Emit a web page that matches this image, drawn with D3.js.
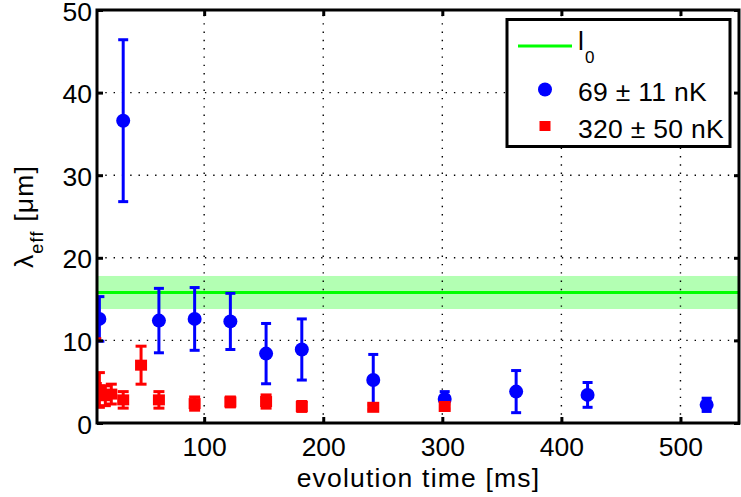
<!DOCTYPE html>
<html>
<head>
<meta charset="utf-8">
<script src="https://cdn.jsdelivr.net/npm/d3@7"></script>
<style>
  html, body { margin: 0; padding: 0; background: #fff; }
  svg { display: block; font-family: "Liberation Sans", Arial, sans-serif; }
</style>
</head>
<body>
<svg id="chart" width="741" height="497"></svg>
<script>
// Evolution time [ms] and effective length [µm] for the cold sample (69 ± 11 nK)
const coldTime  = [12, 32, 62, 92, 122, 152, 182, 242, 302, 362, 422, 522];
const coldValue = [12.6, 36.6, 12.4, 12.6, 12.3, 8.4, 8.9, 5.2, 2.9, 3.8, 3.4, 2.2];
const coldError = [2.7, 9.8, 3.9, 3.8, 3.4, 3.65, 3.7, 3.1, 0.9, 2.55, 1.5, 0.8];

// Warm sample (320 ± 50 nK)
const warmTime  = [9, 12, 17, 22, 32, 47, 62, 92, 122, 152, 182, 242, 302];
const warmValue = [4.3, 4.0, 3.3, 3.5, 2.8, 7.0, 2.8, 2.35, 2.55, 2.6, 2.0, 1.9, 2.0];
const warmError = [5.9, 2.1, 1.2, 1.2, 1.0, 2.3, 1.0, 0.8, 0.6, 0.8, 0.6, 0.3, 0.3];

// Reference length l0 with its uncertainty band
const refValue = 15.8;
const refError = 2.0;

const xTicks = [100, 200, 300, 400, 500];
const yTicks = [0, 10, 20, 30, 40, 50];
const legendLabels = ["69 \u00B1 11 nK", "320 \u00B1 50 nK"];

const svg = d3.select("#chart");
const plotLeft = 97, plotRight = 740, plotTop = 10, plotBottom = 423;

const x = d3.scaleLinear().domain([10, 550]).range([plotLeft, plotRight]);
const y = d3.scaleLinear().domain([0, 50]).range([plotBottom, plotTop]);

const blue = "#0000ff", red = "#ff0000", green = "#00ff00";

svg.append("defs").append("clipPath").attr("id", "plotClip")
  .append("rect").attr("x", plotLeft).attr("y", plotTop)
  .attr("width", plotRight - plotLeft).attr("height", plotBottom - plotTop);

const plot = svg.append("g").attr("clip-path", "url(#plotClip)");

// uncertainty band of l0
plot.append("rect")
  .attr("x", x(10)).attr("width", x(550) - x(10))
  .attr("y", y(refValue + refError))
  .attr("height", y(refValue - refError) - y(refValue + refError))
  .attr("fill", "#b3ffb3");

// dotted grid
const grid = plot.append("g").attr("stroke", "#000").attr("stroke-width", 1.4)
  .attr("stroke-dasharray", "1.4,6.9");
grid.selectAll("line.v").data(xTicks).join("line").attr("class", "v")
  .attr("x1", d => x(d)).attr("x2", d => x(d)).attr("y1", plotBottom).attr("y2", plotTop);
grid.selectAll("line.h").data(yTicks.filter(d => d > 0 && d < 50)).join("line").attr("class", "h")
  .attr("y1", d => y(d)).attr("y2", d => y(d)).attr("x1", plotLeft).attr("x2", plotRight);

// l0 line
plot.append("line")
  .attr("x1", x(10)).attr("x2", x(550))
  .attr("y1", y(refValue)).attr("y2", y(refValue))
  .attr("stroke", green).attr("stroke-width", 3);

function errorBars(g, t, v, e, color, capHalf) {
  const data = t.map((d, i) => ({ t: d, v: v[i], e: e[i] }));
  const eb = g.append("g").attr("stroke", color).attr("stroke-width", 3);
  eb.selectAll("line.stem").data(data).join("line").attr("class", "stem")
    .attr("x1", d => x(d.t)).attr("x2", d => x(d.t))
    .attr("y1", d => y(d.v + d.e)).attr("y2", d => y(d.v - d.e));
  eb.selectAll("line.capT").data(data).join("line").attr("class", "capT")
    .attr("x1", d => x(d.t) - capHalf).attr("x2", d => x(d.t) + capHalf)
    .attr("y1", d => y(d.v + d.e)).attr("y2", d => y(d.v + d.e));
  eb.selectAll("line.capB").data(data).join("line").attr("class", "capB")
    .attr("x1", d => x(d.t) - capHalf).attr("x2", d => x(d.t) + capHalf)
    .attr("y1", d => y(d.v - d.e)).attr("y2", d => y(d.v - d.e));
  return data;
}

// cold sample: circles with error bars
const coldData = errorBars(plot, coldTime, coldValue, coldError, blue, 5);
plot.append("g").selectAll("circle").data(coldData).join("circle")
  .attr("cx", d => x(d.t)).attr("cy", d => y(d.v)).attr("r", 7)
  .attr("fill", blue);

// warm sample: squares with error bars
const warmData = errorBars(plot, warmTime, warmValue, warmError, red, 5.5);
plot.append("g").selectAll("rect").data(warmData).join("rect")
  .attr("x", d => x(d.t) - 6).attr("y", d => y(d.v) - 5.5)
  .attr("width", 12).attr("height", 11)
  .attr("fill", red);

// axes with inward ticks
const fontSize = 26.5;
const ax = svg.append("g").attr("font-size", fontSize);
const styleAxis = g => {
  g.select(".domain").remove();
  g.selectAll(".tick line").attr("stroke", "#000").attr("stroke-width", 3);
  g.selectAll(".tick text").attr("fill", "#000").attr("font-size", fontSize)
    .attr("font-family", "Liberation Sans, Arial, sans-serif");
};
ax.append("g").attr("transform", `translate(0,${plotBottom})`)
  .call(d3.axisBottom(x).tickValues(xTicks).tickSize(-6).tickPadding(14).tickFormat(d3.format("d")))
  .call(styleAxis);
ax.append("g").attr("transform", `translate(0,${plotTop})`)
  .call(d3.axisTop(x).tickValues(xTicks).tickSize(-6).tickFormat(""))
  .call(styleAxis);
ax.append("g").attr("transform", `translate(${plotLeft},0)`)
  .call(d3.axisLeft(y).tickValues(yTicks).tickSize(-6).tickPadding(5).tickFormat(d3.format("d")))
  .call(styleAxis)
  .call(g => g.selectAll(".tick text").attr("dy", "0.38em"));
ax.append("g").attr("transform", `translate(${plotRight},0)`)
  .call(d3.axisRight(y).tickValues(yTicks).tickSize(-6).tickFormat(""))
  .call(styleAxis);

// plot frame
svg.append("rect")
  .attr("x", plotLeft).attr("y", plotTop).attr("width", plotRight - 1 - plotLeft).attr("height", plotBottom - plotTop)
  .attr("fill", "none").attr("stroke", "#000").attr("stroke-width", 3);

// axis titles
svg.append("text")
  .attr("x", (plotLeft + plotRight) / 2).attr("y", 487)
  .attr("text-anchor", "middle").attr("font-size", fontSize)
  .attr("letter-spacing", 1.2)
  .text("evolution time [ms]");

const yl = svg.append("text")
  .attr("transform", `translate(33,${(plotTop + plotBottom) / 2}) rotate(-90)`)
  .attr("text-anchor", "middle").attr("font-size", fontSize)
  .attr("letter-spacing", 1.2);
yl.append("tspan").text("\u03BB");
yl.append("tspan").attr("font-size", 18).attr("dy", 10).text("eff");
yl.append("tspan").attr("dy", -10).text(" [\u03BCm]");

// legend
const lg = svg.append("g");
lg.append("rect").attr("x", 507).attr("y", 19.5).attr("width", 223).attr("height", 127)
  .attr("fill", "#fff").attr("stroke", "#000").attr("stroke-width", 3);
lg.append("line").attr("x1", 518).attr("x2", 572).attr("y1", 46).attr("y2", 46)
  .attr("stroke", green).attr("stroke-width", 3);
const l0 = lg.append("text").attr("x", 578).attr("y", 50).attr("font-size", fontSize);
l0.append("tspan").text("l");
l0.append("tspan").attr("font-size", 17).attr("dy", 13).attr("dx", 1).text("0");
lg.append("circle").attr("cx", 545).attr("cy", 89.5).attr("r", 7).attr("fill", blue);
lg.append("text").attr("x", 578).attr("y", 100.5).attr("font-size", fontSize)
  .attr("letter-spacing", 0.3).text(legendLabels[0]);
lg.append("rect").attr("x", 539.5).attr("y", 121).attr("width", 11).attr("height", 10).attr("fill", red);
lg.append("text").attr("x", 578).attr("y", 137.5).attr("font-size", fontSize)
  .attr("letter-spacing", 0.3).text(legendLabels[1]);
</script>
</body>
</html>
